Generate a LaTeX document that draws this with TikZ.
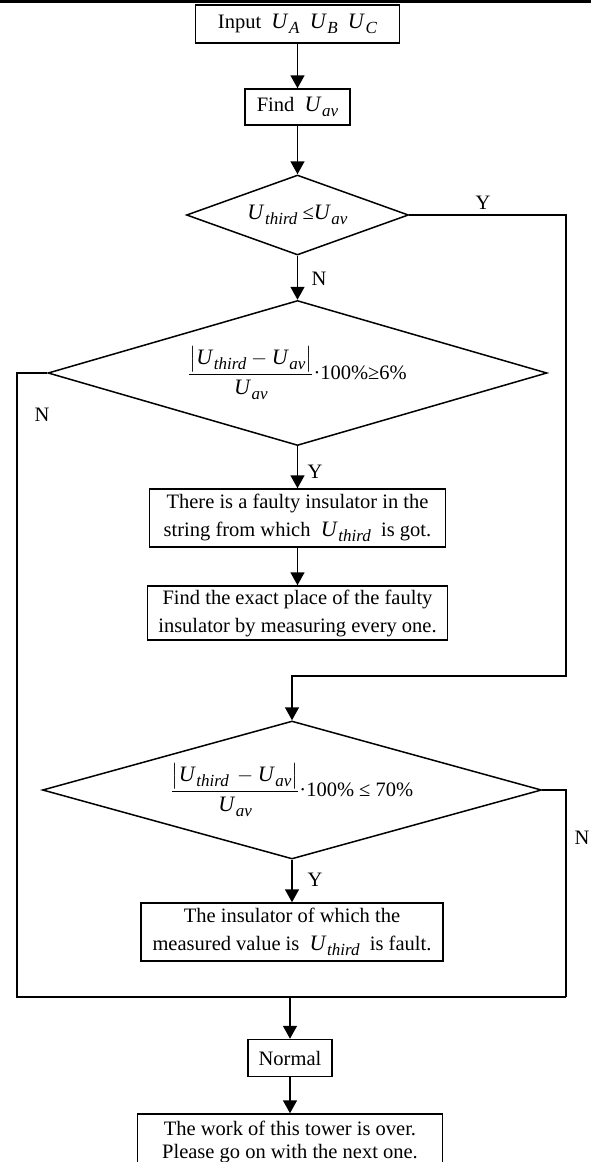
\documentclass[tikz,border=0pt]{standalone}
\usepackage{fontspec}
\setmainfont{Liberation Serif}
\usepackage{amsmath}
\usetikzlibrary{arrows.meta,shapes.geometric}

\newcommand\Uv[1]{{\fontsize{22}{22}\selectfont\textit{U}}\kern0.5pt%
  \raisebox{-5pt}{\fontsize{17}{17}\selectfont\textit{#1}}}

\begin{document}
\begin{tikzpicture}[
  x=1pt, y=-1pt,
  font=\fontsize{20.5}{28}\selectfont,
  proc/.style={draw, line width=1.5pt, align=center, inner sep=0pt},
  cond/.style={draw, diamond, line width=1.5pt, align=center, inner sep=0pt,
               shape aspect=3},
  flow/.style={-{Triangle[length=13pt,width=14pt]}, line width=1.6pt},
  link/.style={line width=1.6pt},
  tag/.style={inner sep=0pt},
]
\useasboundingbox (0,0) rectangle (591,1162);
\clip (0,0) rectangle (591,1162);

% header rule
\draw[line width=3pt] (0,1.5) -- (591,1.5);

\node[proc, minimum width=204pt, minimum height=38pt] (in) at (297.5,24)
  {Input\ \ \Uv{A}\ \ \Uv{B}\ \ \Uv{C}};
\node[proc, minimum width=105pt, minimum height=36pt] (avg) at (297.5,107)
  {Find\ \ \Uv{av}};
\node[cond, minimum width=222pt, minimum height=80pt] (d1) at (297.5,215)
  {\Uv{third} ≤\Uv{av}};
\node[cond, minimum width=499pt, minimum height=145pt] (d2) at (297.5,373)
  {$\dfrac{\bigl|\text{\Uv{third}}-\text{\Uv{av}}\bigr|}{\text{\Uv{av}}}$\text{·100\%≥6\%}};
\node[proc, minimum width=296pt, minimum height=58pt] (found) at (297.5,518)
  {There is a faulty insulator in the\\string from which\ \ \Uv{third}\ \ is got.};
\node[proc, minimum width=300pt, minimum height=54pt] (place) at (297.5,613)
  {Find the exact place of the faulty\\insulator by measuring every one.};
\node[cond, minimum width=499pt, minimum height=138pt] (d3) at (292,790)
  {$\dfrac{\bigl|\text{\Uv{third}}\,-\text{\Uv{av}}\bigr|}{\text{\Uv{av}}}$\text{·100\% ≤ 70\%}};
\node[proc, minimum width=302pt, minimum height=58pt] (fault) at (292,932)
  {The insulator of which the\\measured value is\ \ \Uv{third}\ \ is fault.};
\node[proc, minimum width=84pt, minimum height=37pt] (ok) at (290,1058)
  {Normal};
\node[proc, minimum width=305pt, minimum height=56pt,
      font=\fontsize{20.5}{23}\selectfont] (over) at (290,1142)
  {The work of this tower is over.\\Please go on with the next one.};

\coordinate (ybend) at (566,676);
\coordinate (nleft) at (17,997);
\coordinate (nright) at (566,997);

\draw[flow] (in) -- (avg);
\draw[flow] (avg) -- (d1);
\draw[flow] (d1) -- (d2);
\draw[flow] (d1.east) -| (ybend) -| (d3.north);
\draw[flow] (d2) -- (found);
\draw[flow] (found) -- (place);
\draw[link] (d2.west) -| (nleft) -- (nright);
\draw[link] (d3.east) -| (nright);
\draw[flow] (d3) -- (fault);
\draw[flow] (ok.north |- nleft) -- (ok);
\draw[flow] (ok) -- (over);

\node[tag] (y1) at (483,203) {Y};
\node[tag] (n1) at (319,279) {N};
\node[tag] (n2) at (42,415) {N};
\node[tag] (y2) at (315,472) {Y};
\node[tag] (n3) at (582,838) {N};
\node[tag] (y3) at (315,880) {Y};

\end{tikzpicture}
\end{document}
